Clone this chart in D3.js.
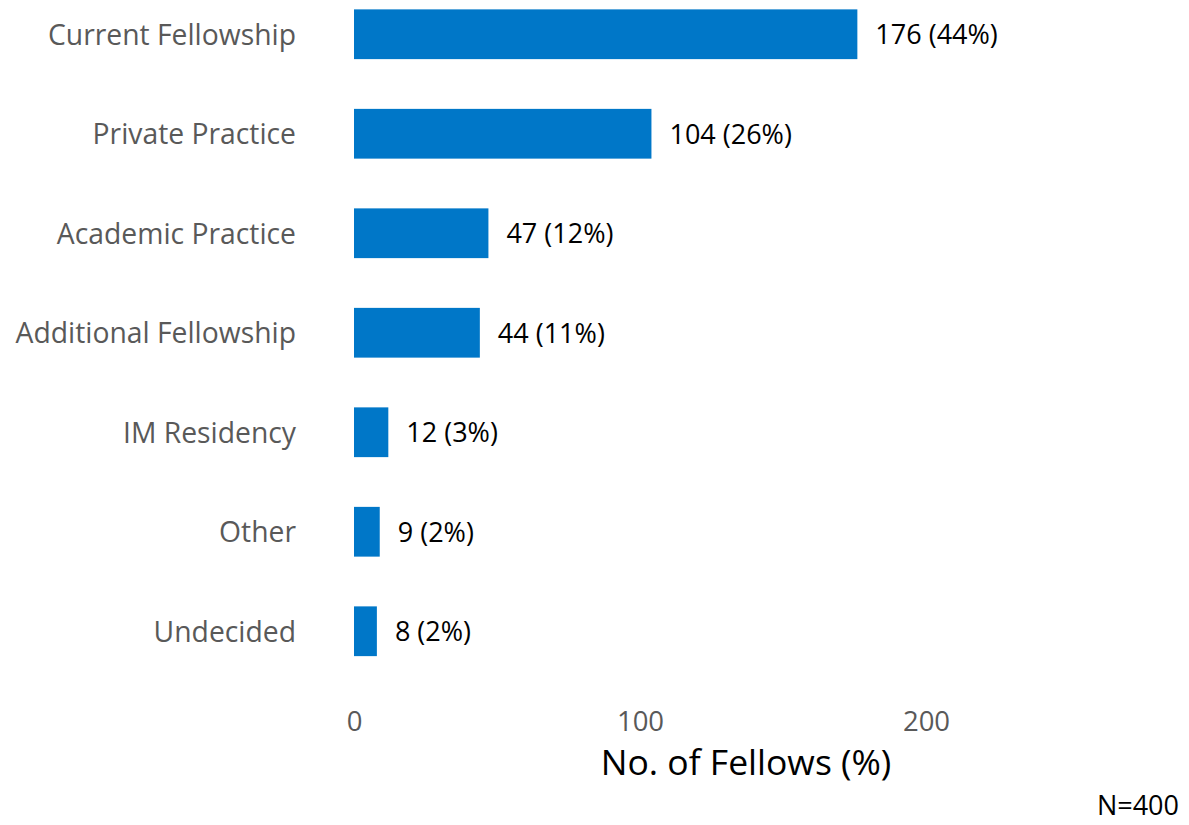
<!DOCTYPE html>
<html>
<head>
<meta charset="utf-8">
<script src="https://cdn.jsdelivr.net/npm/d3@7"></script>
<style>
  html, body { margin: 0; padding: 0; background: #fff; }
  svg { display: block; }
  text { font-family: "Open Sans", "Noto Sans", sans-serif; }
</style>
</head>
<body>
<svg id="chart" width="1189" height="825"></svg>
<script>
// Post-training plans of fellows
const categories = ["Current Fellowship", "Private Practice", "Academic Practice",
                    "Additional Fellowship", "IM Residency", "Other", "Undecided"];
const counts = [176, 104, 47, 44, 12, 9, 8];
const percents = [44, 26, 12, 11, 3, 2, 2];
const xTicks = [0, 100, 200];
const totalN = 400;

const svg = d3.select("#chart");

const x = d3.scaleLinear().domain([0, 200]).range([354, 926]);
const y = d3.scaleBand().domain(categories).range([-15.5, 681]).paddingInner(0.5).paddingOuter(0.25);

const rows = categories.map((c, i) => ({ cat: c, n: counts[i], pct: percents[i] }));

svg.selectAll("rect.bar").data(rows).join("rect")
  .attr("class", "bar")
  .attr("x", x(0))
  .attr("y", d => y(d.cat))
  .attr("width", d => x(d.n) - x(0))
  .attr("height", y.bandwidth())
  .attr("fill", "#0077C8");

svg.selectAll("text.val").data(rows).join("text")
  .attr("class", "val")
  .attr("x", d => x(d.n) + 18)
  .attr("y", d => y(d.cat) + y.bandwidth() / 2)
  .attr("dy", "0.37em")
  .attr("font-size", 27)
  .attr("fill", "#000")
  .text(d => `${d.n} (${d.pct}%)`);

// category axis (labels only)
const yAxis = d3.axisLeft(y).tickSize(0).tickPadding(0);
const gy = svg.append("g").attr("transform", "translate(296,0)").call(yAxis);
gy.select(".domain").remove();
gy.selectAll("text").attr("font-size", 28.3).attr("fill", "#595959")
  .attr("dy", "0.37em")
  .attr("font-family", "'Open Sans', sans-serif");

// value axis (labels only)
const xAxis = d3.axisBottom(x).tickValues(xTicks).tickSize(0).tickPadding(0);
const gx = svg.append("g").attr("transform", "translate(0,711)").call(xAxis);
gx.select(".domain").remove();
gx.selectAll("text").attr("font-size", 27.5).attr("fill", "#595959")
  .attr("font-family", "'Open Sans', sans-serif");

svg.append("text")
  .attr("x", 746).attr("y", 775)
  .attr("text-anchor", "middle")
  .attr("font-size", 35.5)
  .attr("fill", "#000")
  .text("No. of Fellows (%)");

svg.append("text")
  .attr("x", 1179).attr("y", 815)
  .attr("text-anchor", "end")
  .attr("font-size", 27)
  .attr("fill", "#000")
  .text(`N=${totalN}`);
</script>
</body>
</html>
